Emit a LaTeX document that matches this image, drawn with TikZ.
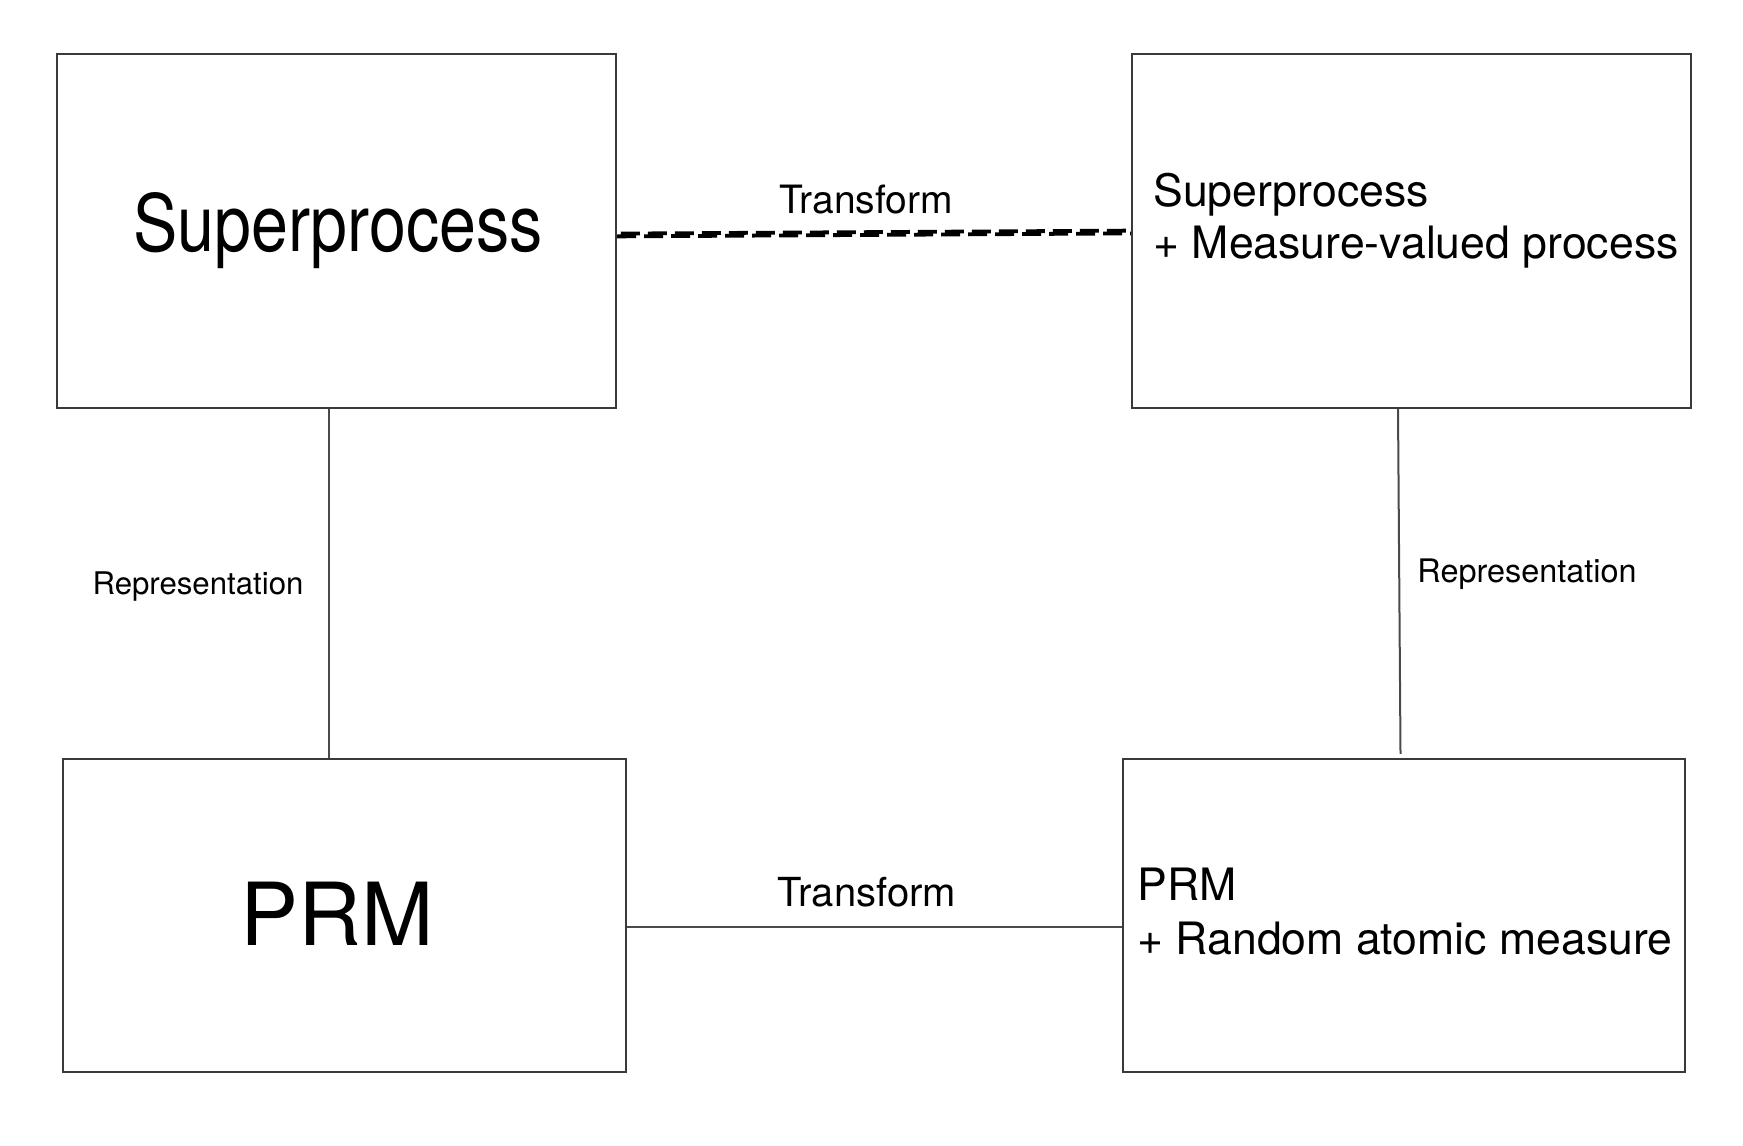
\documentclass[tikz,border=0pt]{standalone}
\usepackage{fontspec}
\setmainfont{TeX Gyre Heros}
\definecolor{boxgray}{HTML}{3A3A3A}
\definecolor{linegray}{HTML}{4A4A4A}

\begin{document}
\begin{tikzpicture}[x=0.5pt, y=-0.5pt,
  box/.style={draw=boxgray, line width=1.2pt, fill=white, inner sep=0pt},
  link/.style={draw=linegray, line width=1pt},
  transform/.style={draw=black, line width=1.9pt, dash pattern=on 9.5pt off 4pt},
  lbl/.style={inner sep=0pt, anchor=base}]
\useasboundingbox[fill=white] (0,0) rectangle (1743,1145);

% the four boxes
\node[box, minimum width=279.5pt, minimum height=177pt] (super) at (336.5,231) {};
\node[box, minimum width=279.5pt, minimum height=177pt] (supermv) at (1411.5,231) {};
\node[box, minimum width=281.5pt, minimum height=156.5pt] (prm) at (344.5,915.5) {};
\node[box, minimum width=281pt, minimum height=156.5pt] (prmatom) at (1404,915.5) {};

% texts in the boxes
\node[lbl] (supertxt) at (338,251) {\scalebox{0.84}[1]{\fontsize{39.5}{47}\selectfont Superprocess}};
\node[lbl] (prmtxt) at (337,945) {\fontsize{43.5}{52}\selectfont PRM};
\node[lbl, anchor=base west] (supermva) at (1153,206) {\fontsize{22.3}{26}\selectfont Superprocess};
\node[lbl, anchor=base west] (supermvb) at (1153,258) {\fontsize{22.3}{26}\selectfont + Measure-valued process};
\node[lbl, anchor=base west] (prmatoma) at (1137,900) {\fontsize{22.3}{26}\selectfont PRM};
\node[lbl, anchor=base west] (prmatomb) at (1137,954) {\fontsize{22.3}{26}\selectfont + Random atomic measure};

% connectors (the dashed one twice, to slant its dashes)
\draw[transform] ([yshift=-2.7pt]super.east) -- ([yshift=-1.2pt]supermv.west);
\draw[transform, dash phase=-1.8pt] ([yshift=-1.3pt]super.east) -- ([yshift=0.2pt]supermv.west);
\draw[link] ([yshift=-5.75pt]prm.east) -- ([yshift=-5.75pt]prmatom.west);
\draw[link] ([xshift=-3.75pt]super.south) coordinate (repl) -- (repl |- prm.north);
\draw[link] ([xshift=-6.75pt]supermv.south) -- ([xshift=-1.75pt, yshift=2pt]prmatom.north);

% connector labels
\node[lbl] (trtop) at (866,213) {\fontsize{19.5}{23}\selectfont Transform};
\node[lbl] (trbot) at (867,906) {\fontsize{20}{24}\selectfont Transform};
\node[lbl] (repleft) at (198,594) {\fontsize{15.6}{19}\selectfont Representation};
\node[lbl] (repright) at (1527,582) {\fontsize{16.2}{19}\selectfont Representation};
\end{tikzpicture}
\end{document}
